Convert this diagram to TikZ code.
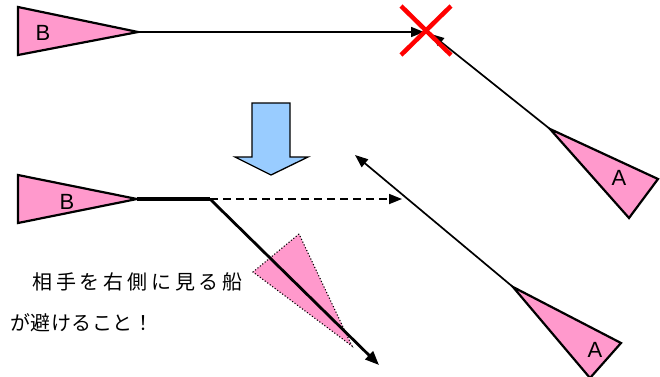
\documentclass[tikz,border=0pt]{standalone}
\usepackage{fontspec}
\setmainfont{Liberation Sans}
\newfontfamily\jpfont{Noto Sans CJK JP}
\usetikzlibrary{arrows.meta}
\definecolor{shippink}{HTML}{FF99CC}
\definecolor{arrowblue}{HTML}{99CCFF}
\newcommand\cjA[1]{\makebox[23.75pt][c]{#1}}
\newcommand\cjB[1]{\makebox[20.5pt][c]{#1}}
\newcommand\lblfont{\fontsize{22pt}{22pt}\selectfont}
\newcommand\jpsize{\jpfont\fontsize{20pt}{20pt}\selectfont}
\begin{document}
\begin{tikzpicture}[x=1pt,y=-1pt,
  ship/.style={fill=shippink,draw=black,line width=2.2pt,line join=miter},
  lbl/.style={font=\lblfont,inner sep=0pt},
  course/.style={line width=1.7pt,-{Triangle[length=13pt,width=10pt]}},
  jtext/.style={font=\jpsize,inner sep=0pt}]
\useasboundingbox (0,0) rectangle (660,376);
% top B ship
\coordinate (tb) at (138,32);
\draw[ship] (18,7) -- (tb) -- (18,55) -- cycle;
\node[lbl] (lb1) at (43,33) {B};
\coordinate (tbend) at (424,32);
\draw[course] (tb) -- (tbend);
% top A ship
\coordinate (ta) at (550,129);
\draw[ship] (ta) -- (658,179) -- (629,218) -- cycle;
\node[lbl] (la1) at (619,178) {A};
\coordinate (taend) at (431,34);
\draw[course] (ta) -- (taend);
% red cross
\draw[red,line width=4.5pt] (401,6) -- (451,55) (451,6) -- (401,55);
% blue down arrow
\draw[fill=arrowblue,draw=black,line width=1.3pt,line join=miter]
  (252,103) -- (290,103) -- (290,157) -- (308,157) -- (271,175) -- (235,157) -- (252,157) -- cycle;
% bottom B ship
\coordinate (bb) at (137,199);
\draw[ship] (18,175) -- (bb) -- (18,223) -- cycle;
\node[lbl] (lb2) at (67,202) {B};
\coordinate (turn) at (210,199);
\coordinate (dashend) at (402,199);
\coordinate (newend) at (379,365);
% dotted ghost ship
\draw[fill=shippink,draw=black,line width=1.1pt,dotted] (299,234) -- (253,272) -- (352,346) -- cycle;
\draw[line width=3.2pt] (bb) -- (turn);
\draw[line width=2.8pt,-{Triangle[length=14pt,width=11pt]}] (turn) -- (newend);
\draw[line width=1.7pt,dash pattern=on 8pt off 5pt,-{Triangle[length=13pt,width=10pt]}] (turn) -- (dashend);
% bottom A ship
\coordinate (ba) at (513,287);
\draw[ship] (ba) -- (621,343) -- (590,378) -- cycle;
\node[lbl] (la2) at (595,350) {A};
\coordinate (baend) at (355,155);
\draw[course] (ba) -- (baend);
% text
\node[jtext] (t1) at (137.5,282) {\cjA{相}\cjA{手}\cjA{を}\cjA{右}\cjA{側}\cjA{に}\cjA{見}\cjA{る}\cjA{船}};
\node[jtext] (t2) at (81.5,323) {\cjB{が}\cjB{避}\cjB{け}\cjB{る}\cjB{こ}\cjB{と}\cjB{！}};
\end{tikzpicture}
\end{document}
